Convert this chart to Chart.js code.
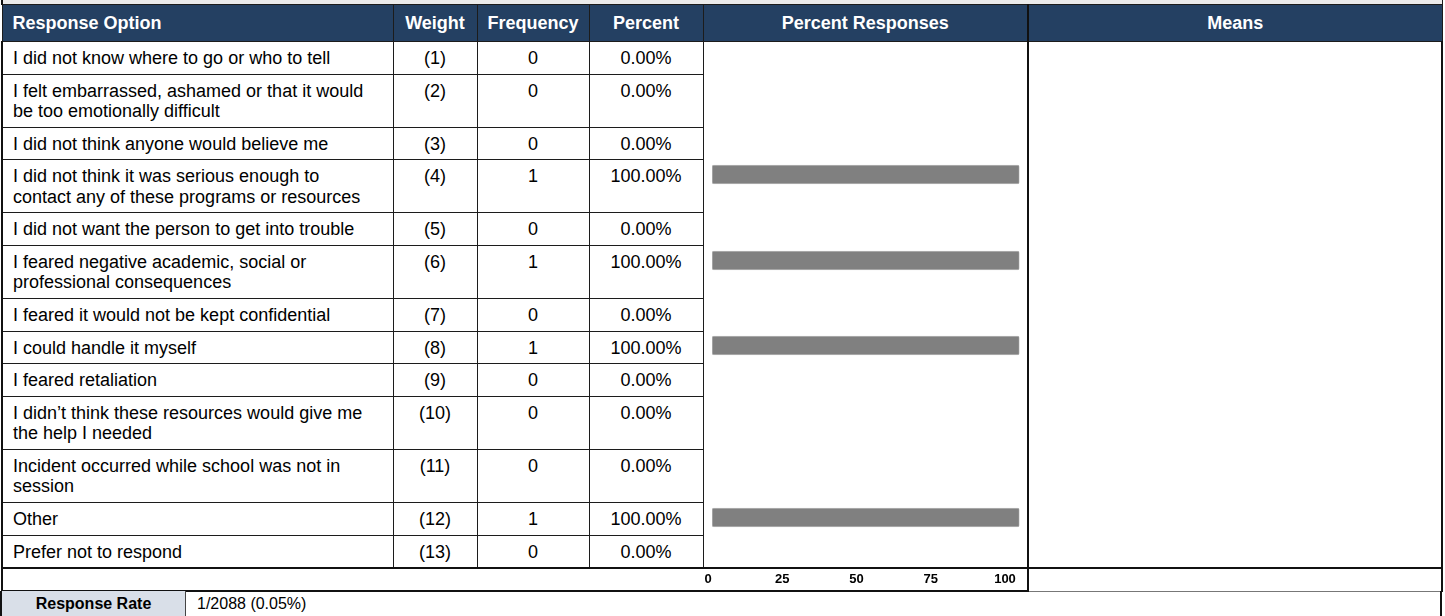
<!DOCTYPE html>
<html>
<head>
<meta charset="utf-8">
<script src="https://cdn.jsdelivr.net/npm/chart.js@4.4.1/dist/chart.umd.min.js"></script>
<style>
  body { margin: 0; background: #fff; font-family: "Liberation Sans", Arial, sans-serif; }
  #grid {
    position: absolute; left: 1px; top: 0;
    width: 1440px; border-collapse: collapse; table-layout: fixed;
    font-size: 18px; color: #000;
  }
  #grid td, #grid th { border: 1px solid #1c1c1c; padding: 0; overflow: hidden; white-space: nowrap; }
  #grid .strip td { height: 4px; background: #ebebeb; border-top: none; }
  #grid th {
    height: 36px; background: #244062; color: #fff; font-weight: bold; font-size: 18px;
    text-align: center; vertical-align: middle;
  }
  #grid th.first { text-align: left; padding-left: 10px; }
  #grid td.opt { padding: 6px 0 0 10px; vertical-align: top; line-height: 20.3px; }
  #grid td.num { text-align: center; vertical-align: top; padding-top: 6px; line-height: 20.3px; }
  #grid td.bar { border-top: none; border-bottom: none; position: relative; vertical-align: top; }
  #grid td.means { border-left: 2px solid #111; border-right: 2px solid #111; }
  #grid tr.axis td { height: 21px; border-top: 2px solid #111; border-bottom: 2px solid #111; position: relative; }
  #grid tr.axis td.blank { border-right: none; }
  #grid tr.axis td.axcell { border-left: none; }
  #grid tr.axis td.meansAxis { border-bottom: 1px solid #777; border-left: 2px solid #111; border-right: 2px solid #111; }
  #grid td.first { border-left: 2px solid #111; }
  #grid td.bar, #grid th.barh { border-right: 2px solid #111; }
  .box { position: absolute; left: 0; right: 0; top: 0; }
  #rate {
    position: absolute; left: 0; top: 591px; width: 1438px; height: 30px;
    border-left: 2px solid #111; border-right: 2px solid #111; font-size: 16px;
  }
  #rate .lab {
    position: absolute; left: 0; top: 0; width: 183px; height: 100%;
    background: #d9dfe8; border-right: 1px solid #444; font-weight: bold;
    text-align: center; line-height: 25px;
  }
  #rate .val { position: absolute; left: 195px; top: 0; line-height: 25px; }
</style>
</head>
<body>
<table id="grid">
  <colgroup>
    <col style="width:391px"><col style="width:84px"><col style="width:112px">
    <col style="width:114px"><col style="width:325px"><col style="width:414px">
  </colgroup>
  <tbody id="body"></tbody>
</table>
<div id="rate"><div class="lab">Response Rate</div><div class="val" id="rateVal"></div></div>
<script>
const categories = [
  ["I did not know where to go or who to tell"],
  ["I felt embarrassed, ashamed or that it would", "be too emotionally difficult"],
  ["I did not think anyone would believe me"],
  ["I did not think it was serious enough to", "contact any of these programs or resources"],
  ["I did not want the person to get into trouble"],
  ["I feared negative academic, social or", "professional consequences"],
  ["I feared it would not be kept confidential"],
  ["I could handle it myself"],
  ["I feared retaliation"],
  ["I didn\u2019t think these resources would give me", "the help I needed"],
  ["Incident occurred while school was not in", "session"],
  ["Other"],
  ["Prefer not to respond"]
];
const weights = [1, 2, 3, 4, 5, 6, 7, 8, 9, 10, 11, 12, 13];
const frequencies = [0, 0, 0, 1, 0, 1, 0, 1, 0, 0, 0, 1, 0];
const percents = [0, 0, 0, 100, 0, 100, 0, 100, 0, 0, 0, 100, 0];
const tickLabels = [0, 25, 50, 75, 100];
const headers = ["Response Option", "Weight", "Frequency", "Percent", "Percent Responses", "Means"];
const responseRate = "1/2088 (0.05%)";

const FONT = '"Liberation Sans", Arial, sans-serif';
const tbody = document.getElementById('body');

let html = '<tr class="strip"><td colspan="6" class="first"></td></tr><tr>';
headers.forEach(function(h, i) {
  let cls = i == 0 ? 'first' : (i == 4 ? 'barh' : '');
  html += '<th class="' + cls + '">' + h + '</th>';
});
html += '</tr>';
categories.forEach(function(lines, i) {
  const h = lines.length > 1 ? 53 : 32.7;
  html += '<tr style="height:' + h + 'px">';
  html += '<td class="opt first">' + lines.join('<br>') + '</td>';
  html += '<td class="num">(' + weights[i] + ')</td>';
  html += '<td class="num">' + frequencies[i] + '</td>';
  html += '<td class="num">' + percents[i].toFixed(2) + '%</td>';
  html += '<td class="bar"><div class="box" style="height:29px"><canvas id="bar' + i + '"></canvas></div></td>';
  if (i == 0) html += '<td class="means" rowspan="' + categories.length + '"></td>';
  html += '</tr>';
});
html += '<tr class="axis"><td colspan="4" class="first blank"></td>' +
  '<td class="bar axcell" style="border-top:2px solid #111;border-bottom:2px solid #111"><div class="box" style="height:40px"><canvas id="axis"></canvas></div></td>' +
  '<td class="meansAxis"></td></tr>';
tbody.innerHTML = html;
document.getElementById('rateVal').textContent = responseRate;

// one small chart per row so the bars line up with rows of uneven height
categories.forEach(function(lines, i) {
  new Chart(document.getElementById('bar' + i), {
    type: 'bar',
    data: {
      labels: [lines.join(' ')],
      datasets: [{
        data: [percents[i]],
        backgroundColor: function(c) { return c.raw > 0 ? '#808080' : 'rgba(0,0,0,0)'; },
        borderColor: function(c) { return c.raw > 0 ? '#b5b5b5' : 'rgba(0,0,0,0)'; },
        borderWidth: 1,
        borderSkipped: false,
        borderRadius: 2,
        barThickness: 19
      }]
    },
    options: {
      indexAxis: 'y',
      animation: false,
      responsive: true,
      maintainAspectRatio: false,
      layout: { padding: { left: 8, right: 8, top: 0, bottom: 0 } },
      plugins: { legend: { display: false }, tooltip: { enabled: false } },
      scales: {
        x: { display: false, min: 0, max: 100 },
        y: { display: false }
      }
    }
  });
});

// tick row under the bars (canvas is taller than the row so the axis box gets its full height)
new Chart(document.getElementById('axis'), {
  type: 'scatter',
  data: { datasets: [{ data: [] }] },
  options: {
    animation: false,
    responsive: true,
    maintainAspectRatio: false,
    layout: { padding: { left: 5, right: 22, top: 3, bottom: 0 } },
    plugins: { legend: { display: false }, tooltip: { enabled: false } },
    scales: {
      x: {
        type: 'linear', position: 'top', min: 0, max: 100,
        grid: { display: false, drawTicks: false },
        border: { display: false },
        afterBuildTicks: function(axis) {
          axis.ticks = tickLabels.map(function(v) { return { value: v }; });
        },
        ticks: {
          autoSkip: false, maxRotation: 0, padding: 0, color: '#000',
          font: { family: FONT, size: 13, weight: 'bold' }
        }
      },
      y: { display: false }
    }
  }
});
</script>
</body>
</html>
